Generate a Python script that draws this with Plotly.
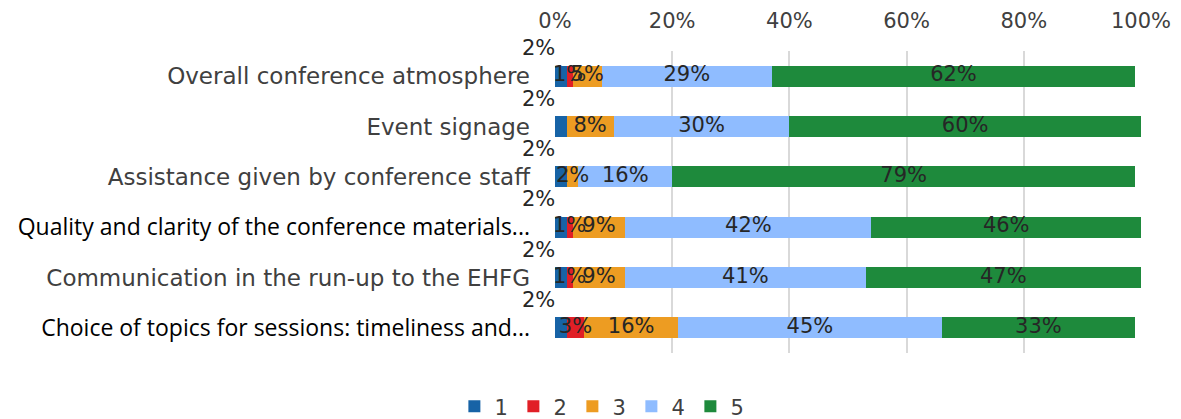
import plotly.graph_objects as go

categories = [
    "Overall conference atmosphere",
    "Event signage",
    "Assistance given by conference staff",
    "Quality and clarity of the conference materials...",
    "Communication in the run-up to the EHFG",
    "Choice of topics for sessions: timeliness and...",
]
# darker labels in the original for the truncated rows
dark_rows = [False, False, False, True, False, True]

score_names = ["1", "2", "3", "4", "5"]
score1 = [2, 2, 2, 2, 2, 2]
score2 = [1, 0, 0, 1, 1, 3]
score3 = [5, 8, 2, 9, 9, 16]
score4 = [29, 30, 16, 42, 41, 45]
score5 = [62, 60, 79, 46, 47, 33]

colors = ["#1763a6", "#e11f26", "#ed9c22", "#8fbcff", "#1e8a3c"]
FONT = "DejaVu Sans ExtraLight, DejaVu Sans"
LABEL_FONT = dict(family=FONT, size=21, color="#262626")

series = [score1, score2, score3, score4, score5]

fig = go.Figure()

for name, vals, col in zip(score_names, series, colors):
    fig.add_trace(go.Bar(
        name=name,
        y=categories,
        x=vals,
        orientation="h",
        marker=dict(color=col, line=dict(width=0)),
        hoverinfo="x+y+name",
    ))

# value labels go on top of all bars (like Excel), so they are text traces
base = [0] * len(categories)
for name, vals in zip(score_names, series):
    mids = [b + v / 2 for b, v in zip(base, vals)]
    base = [b + v for b, v in zip(base, vals)]
    if name == "1":
        # the "1" labels sit above the bars, see annotations below
        continue
    fig.add_trace(go.Scatter(
        x=mids,
        y=categories,
        mode="text",
        text=[f"{v}%" if v else "" for v in vals],
        textposition="middle center",
        textfont=LABEL_FONT,
        showlegend=False,
        hoverinfo="skip",
        cliponaxis=False,
    ))

for cat, v in zip(categories, score1):
    fig.add_annotation(
        x=v / 2, y=cat, xref="x", yref="y",
        text=f"{v}%", showarrow=False,
        xanchor="right", yanchor="middle", yshift=28, xshift=-4,
        font=LABEL_FONT,
    )

ticktext = [
    f"<span style=\"color:#000000;font-family:'Open Sans';font-size:23px\">{c}</span>" if d else c
    for c, d in zip(categories, dark_rows)
]

# page body has an 8px margin, so the figure is sized to fit inside the window
fig.update_layout(
    barmode="stack",
    bargap=0.58,
    width=1173,
    height=411,
    margin=dict(l=547, r=40, t=43, b=66),
    paper_bgcolor="white",
    plot_bgcolor="white",
    font=dict(family=FONT, size=21, color="#404040"),
    showlegend=True,
    legend=dict(
        orientation="h",
        x=0.08, xanchor="center", xref="paper",
        y=0.03, yanchor="middle", yref="container",
        font=dict(family=FONT, size=21, color="#404040"),
        itemwidth=30,
        entrywidth=14,
        entrywidthmode="pixels",
        traceorder="normal",
    ),
)

fig.update_xaxes(
    side="top",
    range=[0, 100],
    tickvals=[0, 20, 40, 60, 80, 100],
    ticktext=["0%", "20%", "40%", "60%", "80%", "100%"],
    showgrid=True,
    gridcolor="#d9d9d9",
    gridwidth=2,
    zeroline=False,
    showline=False,
    ticks="",
    ticklabelstandoff=18,
    automargin=False,
    tickfont=dict(family=FONT, size=21, color="#404040"),
    fixedrange=True,
)

fig.update_yaxes(
    range=[len(categories) - 0.5, -0.5],
    tickvals=categories,
    ticktext=ticktext,
    showgrid=False,
    zeroline=False,
    showline=False,
    ticks="",
    ticklabelstandoff=24,
    automargin=False,
    tickfont=dict(family=FONT, size=23, color="#404040"),
)

fig.write_html("out.html")
